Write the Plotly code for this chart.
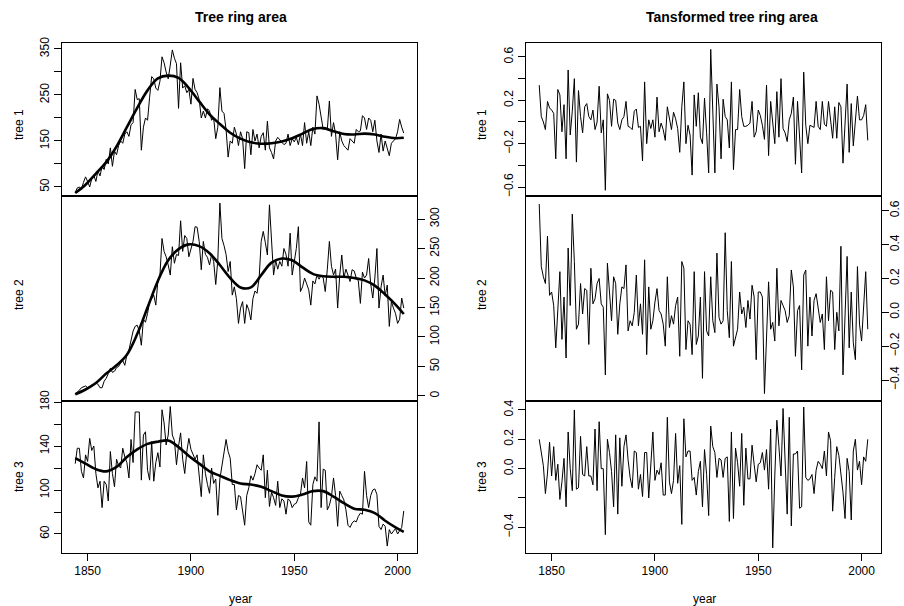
import plotly.graph_objects as go

START_YEAR = 1844

tree1 = [38, 48, 50, 45, 60, 72, 62, 50, 68, 75, 62, 85, 74, 95, 88, 110, 100, 135, 95, 128,
         120, 140, 150, 145, 165, 170, 160, 185, 190, 262, 240, 242, 130, 180, 200, 195, 245, 290, 285, 265,
         260, 280, 333, 320, 300, 285, 315, 348, 330, 318, 221, 320, 265, 270, 255, 262, 230, 286, 262, 255,
         240, 200, 215, 200, 220, 215, 195, 200, 155, 180, 266, 215, 210, 175, 115, 150, 145, 180, 165, 140,
         170, 155, 90, 170, 168, 120, 175, 150, 165, 135, 160, 168, 130, 193, 135, 125, 111, 150, 158, 152,
         148, 142, 145, 165, 140, 155, 148, 158, 142, 165, 140, 190, 145, 170, 140, 180, 165, 248, 230, 200,
         175, 180, 175, 237, 160, 190, 165, 109, 170, 150, 140, 135, 130, 155, 150, 145, 175, 170, 172, 205,
         200, 175, 200, 195, 170, 195, 150, 125, 165, 128, 150, 135, 118, 145, 150, 155, 170, 197, 180, 167]

tree2 = [3, 6, 10, 14, 16, 17, 14, 15, 19, 18, 22, 20, 14, 14, 25, 30, 38, 47, 40, 42,
         48, 50, 56, 60, 52, 70, 78, 95, 110, 118, 120, 110, 86, 130, 125, 140, 160, 165, 171, 154,
         195, 205, 267, 245, 236, 222, 205, 253, 225, 240, 238, 297, 245, 272, 267, 236, 248, 262, 287, 286,
         262, 214, 262, 240, 235, 222, 240, 228, 189, 230, 327, 267, 255, 240, 211, 228, 171, 185, 165, 123,
         149, 160, 123, 155, 146, 129, 165, 178, 174, 200, 262, 279, 260, 239, 324, 260, 205, 230, 215, 228,
         220, 250, 240, 220, 276, 205, 230, 250, 287, 177, 185, 200, 190, 180, 154, 195, 190, 205, 198, 205,
         200, 177, 215, 262, 220, 205, 215, 149, 205, 239, 200, 215, 205, 194, 214, 212, 200, 195, 157, 210,
         200, 205, 233, 190, 166, 200, 250, 149, 185, 205, 170, 188, 118, 160, 149, 140, 123, 130, 166, 149]

tree3 = [124, 138, 138, 117, 111, 132, 126, 147, 136, 140, 115, 102, 108, 84, 108, 105, 90, 135, 115, 103,
         128, 122, 120, 138, 130, 125, 111, 146, 125, 171, 171, 171, 109, 150, 153, 118, 109, 144, 108, 125,
         134, 121, 173, 161, 141, 150, 176, 150, 145, 123, 140, 152, 128, 115, 135, 147, 137, 133, 128, 132,
         110, 94, 132, 115, 105, 97, 120, 106, 110, 77, 110, 123, 135, 146, 135, 129, 105, 105, 82, 95,
         94, 82, 68, 95, 102, 113, 109, 115, 123, 120, 118, 132, 93, 118, 85, 98, 93, 86, 108, 84,
         92, 90, 78, 92, 90, 84, 87, 88, 93, 96, 111, 102, 126, 71, 68, 105, 112, 108, 162, 84,
         119, 118, 82, 86, 94, 111, 95, 67, 99, 95, 91, 82, 68, 66, 70, 72, 71, 76, 79, 78,
         117, 95, 84, 95, 100, 101, 96, 67, 64, 69, 67, 49, 64, 60, 62, 65, 60, 63, 66, 81]

smooth_years = [1844, 1849, 1854, 1859, 1864, 1869, 1874, 1879, 1884, 1889, 1894, 1899, 1904, 1909, 1914, 1919,
                1924, 1929, 1934, 1939, 1944, 1949, 1954, 1959, 1964, 1969, 1974, 1979, 1984, 1989, 1994, 1999, 2003]
smooth1 = [37, 55, 79, 104, 138, 180, 222, 260, 286, 292, 287, 265, 236, 208, 187, 168,
           155, 147, 144, 145, 149, 156, 166, 176, 178, 171, 165, 164, 166, 164, 159, 156, 157]
smooth2 = [3, 11, 22, 38, 52, 70, 105, 150, 195, 230, 249, 257, 254, 242, 222, 200,
           184, 184, 205, 226, 233, 230, 218, 207, 203, 202, 202, 200, 196, 187, 172, 155, 139]
smooth3 = [129, 124, 119, 117, 121, 130, 137, 142, 144, 145, 139, 131, 124, 117, 113, 109,
           106, 105, 103, 99, 95, 94, 96, 99, 99, 94, 88, 83, 82, 79, 72, 66, 62]

trans1 = [0.34, 0.05, 0.00, -0.07, 0.19, 0.13, 0.11, 0.08, -0.34, 0.30, 0.25, -0.09, 0.16, -0.34, 0.48, -0.12,
          0.10, 0.40, -0.37, 0.29, 0.05, -0.10, 0.14, 0.17, 0.05, 0.02, 0.11, -0.07, 0.00, 0.33, -0.10, 0.02,
          -0.63, 0.26, 0.20, -0.04, 0.21, 0.20, -0.01, -0.07, 0.02, 0.05, 0.19, -0.04, -0.05, -0.07, 0.10, 0.12,
          -0.05, -0.04, -0.36, 0.37, -0.20, 0.02, -0.06, 0.02, -0.14, 0.23, -0.09, -0.01, -0.07, -0.17, 0.14, 0.02,
          -0.07, 0.09, 0.03, -0.06, -0.28, 0.14, 0.37, -0.20, -0.03, -0.12, -0.49, 0.25, -0.04, 0.27, -0.14, -0.20,
          0.22, -0.10, -0.47, 0.67, -0.01, -0.47, 0.35, 0.14, -0.34, 0.21, 0.05, 0.02, -0.24, 0.37, -0.44, -0.07,
          -0.07, 0.30, 0.05, -0.04, -0.04, -0.03, -0.01, 0.19, -0.14, -0.09, 0.11, 0.06, -0.03, -0.16, 0.34, -0.31,
          0.19, -0.03, -0.20, 0.28, -0.14, 0.40, -0.06, -0.10, -0.18, 0.02, 0.08, 0.23, -0.39, 0.19, -0.14, -0.47,
          0.46, -0.03, -0.20, -0.03, -0.04, -0.05, 0.19, -0.04, -0.07, 0.19, -0.02, -0.04, 0.19, 0.00, -0.15, 0.14,
          -0.15, 0.18, 0.14, -0.38, 0.02, 0.35, -0.28, 0.17, -0.22, 0.02, 0.24, 0.02, 0.02, 0.06, 0.16, -0.17]

trans2 = [0.64, 0.27, 0.21, 0.17, 0.45, 0.10, 0.12, 0.04, -0.21, 0.04, 0.24, -0.16, 0.09, -0.27, 0.38, 0.04,
          0.58, 0.30, -0.10, -0.07, 0.17, -0.01, 0.14, 0.13, -0.19, 0.26, 0.05, 0.08, 0.17, 0.20, 0.05, 0.03,
          -0.37, 0.29, 0.10, -0.05, 0.21, 0.17, -0.13, 0.05, 0.15, 0.14, 0.28, -0.11, -0.05, -0.08, 0.00, 0.22,
          -0.08, 0.05, -0.13, 0.31, -0.25, 0.15, -0.10, -0.05, 0.06, 0.14, 0.01, -0.01, -0.07, -0.20, 0.21, -0.09,
          -0.02, -0.07, 0.04, 0.09, -0.26, 0.30, 0.26, -0.22, -0.05, -0.07, -0.25, 0.24, -0.19, -0.14, 0.09, -0.39,
          0.24, -0.11, -0.14, 0.21, -0.05, -0.12, 0.35, -0.03, -0.07, -0.05, 0.47, 0.01, -0.15, 0.30, -0.20, -0.15,
          -0.10, 0.12, -0.01, 0.03, -0.09, 0.07, -0.04, 0.16, 0.09, -0.28, 0.12, 0.12, 0.09, -0.48, -0.09, 0.18,
          -0.10, -0.06, -0.17, 0.26, -0.08, 0.07, 0.04, 0.01, -0.06, -0.02, 0.25, 0.15, -0.26, 0.01, 0.04, -0.34,
          0.22, 0.25, -0.20, 0.09, -0.14, 0.07, 0.11, 0.03, -0.06, -0.01, -0.22, 0.21, -0.05, 0.13, 0.12, -0.22,
          0.00, -0.11, 0.39, -0.37, -0.07, 0.33, -0.21, 0.12, -0.18, -0.28, 0.27, -0.07, -0.17, 0.07, 0.24, -0.10]

trans3 = [0.20, 0.11, 0.02, -0.17, -0.03, 0.18, -0.05, 0.15, -0.08, 0.03, -0.21, -0.09, 0.07, -0.26, 0.25, 0.00,
          -0.15, 0.40, -0.14, -0.13, 0.22, -0.04, -0.05, 0.15, -0.05, -0.05, -0.11, 0.27, -0.15, 0.32, 0.00, 0.00,
          -0.45, 0.20, 0.11, -0.02, -0.26, 0.23, -0.31, 0.21, -0.12, 0.15, 0.23, 0.06, -0.06, -0.13, 0.12, 0.11,
          -0.14, -0.04, -0.19, 0.11, 0.11, -0.20, 0.00, 0.25, -0.08, -0.01, -0.04, 0.04, -0.18, -0.18, 0.35, -0.09,
          -0.17, -0.08, 0.24, -0.10, 0.02, -0.38, 0.34, 0.08, 0.12, 0.12, -0.08, -0.06, -0.18, -0.02, 0.05, -0.26,
          0.13, -0.04, -0.32, 0.29, 0.15, 0.11, -0.06, 0.07, 0.06, -0.06, 0.07, 0.08, -0.36, 0.25, -0.34, 0.14,
          0.04, -0.12, 0.24, -0.25, 0.14, -0.07, -0.07, 0.16, 0.03, -0.09, 0.03, 0.04, 0.11, -0.01, 0.13, -0.14,
          0.27, -0.54, -0.05, 0.33, 0.15, -0.05, 0.41, 0.02, -0.31, 0.35, -0.39, 0.10, 0.10, 0.12, -0.27, -0.26,
          0.42, -0.06, -0.08, -0.07, -0.04, -0.17, -0.01, 0.05, 0.03, 0.00, 0.12, -0.05, 0.25, 0.19, -0.29, -0.06,
          0.15, 0.09, -0.04, -0.16, -0.34, 0.07, -0.02, -0.35, 0.12, 0.20, -0.01, 0.05, -0.11, 0.08, 0.05, 0.20]

year_ticks = [1850, 1900, 1950, 2000]
titles = ["Tree ring area", "Tansformed tree ring area"]
ylabels = ["tree 1", "tree 2", "tree 3"]

W, H = 904, 606
FONT = "Liberation Sans, Arial, Helvetica, sans-serif"


def px_x(x):
    return x / W


def px_y(y):
    return 1 - y / H


def years_for(vals):
    return list(range(START_YEAR, START_YEAR + len(vals)))


fig = go.Figure()

series = [tree1, tree2, tree3, trans1, trans2, trans3]
smooths = [smooth1, smooth2, smooth3, None, None, None]
for i, vals in enumerate(series):
    n = i + 1
    xa = "x" if n == 1 else f"x{n}"
    ya = "y" if n == 1 else f"y{n}"
    fig.add_trace(go.Scatter(x=years_for(vals), y=vals, mode="lines",
                             line=dict(color="black", width=1), xaxis=xa, yaxis=ya,
                             showlegend=False, hoverinfo="skip"))
    if smooths[i] is not None:
        fig.add_trace(go.Scatter(x=smooth_years, y=smooths[i], mode="lines",
                                 line=dict(color="black", width=2.6, shape="spline", smoothing=1.0),
                                 xaxis=xa, yaxis=ya, showlegend=False, hoverinfo="skip"))

cols = [(62, 417), (526, 881)]
rows = [(43, 196), (196, 401), (401, 553)]
yranges = [[30.4, 363], [-8.5, 339], [42.7, 181],
           [-0.683, 0.729], [-0.524, 0.687], [-0.575, 0.461]]
yticks = [
    ([50, 100, 150, 200, 250, 300, 350], ["50", "", "150", "", "250", "", "350"], "left"),
    ([0, 50, 100, 150, 200, 250, 300], ["0", "50", "100", "150", "200", "250", "300"], "right"),
    ([60, 80, 100, 120, 140, 160, 180], ["60", "", "100", "", "140", "", "180"], "left"),
    ([-0.6, -0.4, -0.2, 0, 0.2, 0.4, 0.6], ["\u22120.6", "", "\u22120.2", "", "0.2", "", "0.6"], "left"),
    ([-0.4, -0.2, 0, 0.2, 0.4, 0.6], ["\u22120.4", "\u22120.2", "0.0", "0.2", "0.4", "0.6"], "right"),
    ([-0.4, -0.2, 0, 0.2, 0.4], ["\u22120.4", "", "0.0", "0.2", "0.4"], "left"),
]

layout = dict(width=W, height=H, margin=dict(l=0, r=0, t=0, b=0, pad=0, autoexpand=False),
              paper_bgcolor="white", plot_bgcolor="white",
              font=dict(family=FONT, size=12, color="black"), showlegend=False)

for i in range(6):
    n = i + 1
    c = cols[i // 3]
    r = rows[i % 3]
    xkey = "xaxis" if n == 1 else f"xaxis{n}"
    ykey = "yaxis" if n == 1 else f"yaxis{n}"
    bottom = (i % 3 == 2)
    xa = dict(domain=[px_x(c[0]), px_x(c[1])], range=[1837.6, 2009.4],
              anchor="y" if n == 1 else f"y{n}", automargin=False,
              showline=True, mirror=True, linecolor="black", linewidth=1,
              showgrid=False, zeroline=False, fixedrange=True)
    if bottom:
        xa.update(tickmode="array", tickvals=year_ticks, ticktext=[str(v) for v in year_ticks],
                  ticks="outside", ticklen=7, tickwidth=1, tickcolor="black",
                  tickfont=dict(size=12, family=FONT, color="black"))
    else:
        xa.update(showticklabels=False, ticks="")
    tv, tt, side = yticks[i]
    ya = dict(domain=[px_y(r[1]), px_y(r[0])], range=yranges[i],
              anchor="x" if n == 1 else f"x{n}", side=side, automargin=False,
              showline=True, mirror=True, linecolor="black", linewidth=1,
              showgrid=False, zeroline=False, fixedrange=True,
              tickmode="array", tickvals=tv, ticktext=tt,
              ticks="outside", ticklen=7, tickwidth=1, tickcolor="black",
              tickangle=-90, tickfont=dict(size=12, family=FONT, color="black"))
    if n == 5:
        ya["ticklabelstandoff"] = -4
    layout[xkey] = xa
    layout[ykey] = ya

annotations = []
title_x = [241, 732]
for t, tx in zip(titles, title_x):
    annotations.append(dict(text=f"<b>{t}</b>", x=px_x(tx), y=px_y(17), xref="paper", yref="paper",
                            showarrow=False, xanchor="center", yanchor="middle",
                            font=dict(size=14, family=FONT, color="black")))
year_x = [240, 704]
for yx in year_x:
    annotations.append(dict(text="year", x=px_x(yx), y=px_y(599), xref="paper", yref="paper",
                            showarrow=False, xanchor="center", yanchor="middle",
                            font=dict(size=12, family=FONT, color="black")))
ylab_y = [125, 295, 477]
for cx in [19, 482]:
    for lab, ly in zip(ylabels, ylab_y):
        annotations.append(dict(text=lab, x=px_x(cx), y=px_y(ly), xref="paper", yref="paper",
                                showarrow=False, xanchor="center", yanchor="middle", textangle=-90,
                                font=dict(size=12, family=FONT, color="black")))
layout["annotations"] = annotations

fig.update_layout(**layout)
fig.write_html("out.html", config={"displayModeBar": False})
